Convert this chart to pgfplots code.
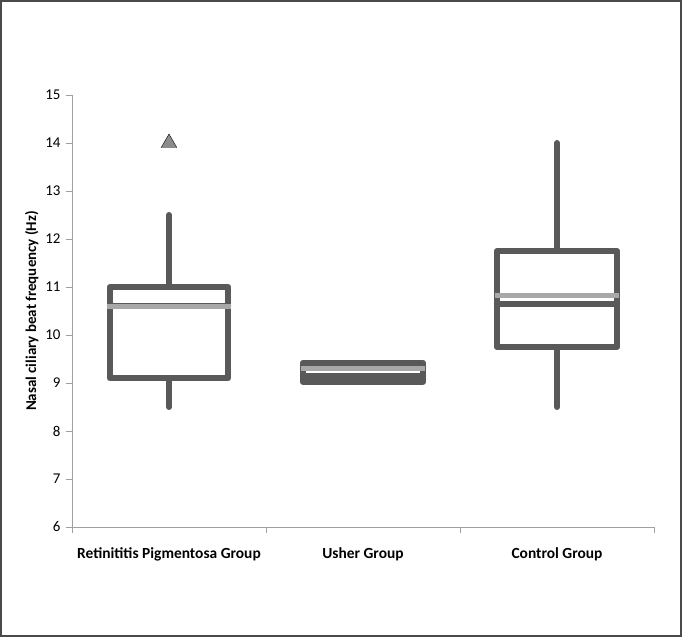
\documentclass[border=0pt]{standalone}
\usepackage{fontspec}
\setmainfont{Carlito}
\usepackage{pgfplots}
\pgfplotsset{compat=1.18}
\usepgfplotslibrary{statistics}
\definecolor{boxc}{HTML}{595959}
\definecolor{meanc}{HTML}{A8A8A8}
\definecolor{axc}{HTML}{A0A0A0}
\definecolor{framec}{HTML}{4A4A4A}
\definecolor{outc}{HTML}{8C8C8C}

\begin{document}
\begin{tikzpicture}
\begin{axis}[
    scale only axis,
    width=582bp, height=432bp,
    xmin=0, xmax=3, ymin=6, ymax=15,
    axis lines=left,
    axis line style={-, axc, line width=1bp},
    xtick={0,1,2,3},
    xticklabels={},
    extra x ticks={0.5,1.5,2.5},
    extra x tick labels={Retinititis Pigmentosa Group, Usher Group, Control Group},
    extra x tick style={major tick length=0pt,
        xticklabel style={font=\fontsize{15.5}{18}\selectfont\bfseries, yshift=-17bp}},
    ytick={6,...,15},
    yticklabel style={font=\fontsize{15}{18}\selectfont, xshift=-2bp},
    /pgf/number format/assume math mode=true,
    tick align=outside,
    major tick length=6bp,
    tick style={axc, line width=0.8bp},
    ylabel={Nasal ciliary beat frequency (Hz)},
    ylabel style={font=\fontsize{15}{18}\selectfont\bfseries},
    boxplot/draw direction=y,
    clip=false,
]
% Retinitis Pigmentosa
\addplot[boxc, line width=6bp, line join=round, line cap=round,
    boxplot prepared={draw direction=y, draw position=0.5, lower whisker=8.5, lower quartile=9.1,
        median=10.6, upper quartile=11.0, upper whisker=12.5,
        box extend=0.61, whisker extend=0}] coordinates {};
% Usher
\addplot[boxc, line width=6bp, line join=round, line cap=round,
    boxplot prepared={draw direction=y, draw position=1.5, lower whisker=9.03, lower quartile=9.03,
        median=9.15, upper quartile=9.42, upper whisker=9.42,
        box extend=0.62, whisker extend=0}] coordinates {};
% Control
\addplot[boxc, line width=6bp, line join=round, line cap=round,
    boxplot prepared={draw direction=y, draw position=2.5, lower whisker=8.5, lower quartile=9.75,
        median=10.65, upper quartile=11.75, upper whisker=14.0,
        box extend=0.62, whisker extend=0}] coordinates {};
% means
\addplot[meanc, line width=5bp] coordinates {(0.18,10.6) (0.82,10.6)};
\addplot[meanc, line width=5bp] coordinates {(1.18,9.3) (1.82,9.3)};
\addplot[meanc, line width=5bp] coordinates {(2.18,10.82) (2.82,10.82)};
% outlier
\addplot[only marks, mark=triangle*, mark size=9bp,
    mark options={fill=outc, draw=none}] coordinates {(0.5,14)};
\end{axis}
\draw[framec, line width=2bp]
    ([shift={(-71bp,-109bp)}]current axis.south west) rectangle
    ([shift={(27bp,94bp)}]current axis.north east);
\end{tikzpicture}
\end{document}
